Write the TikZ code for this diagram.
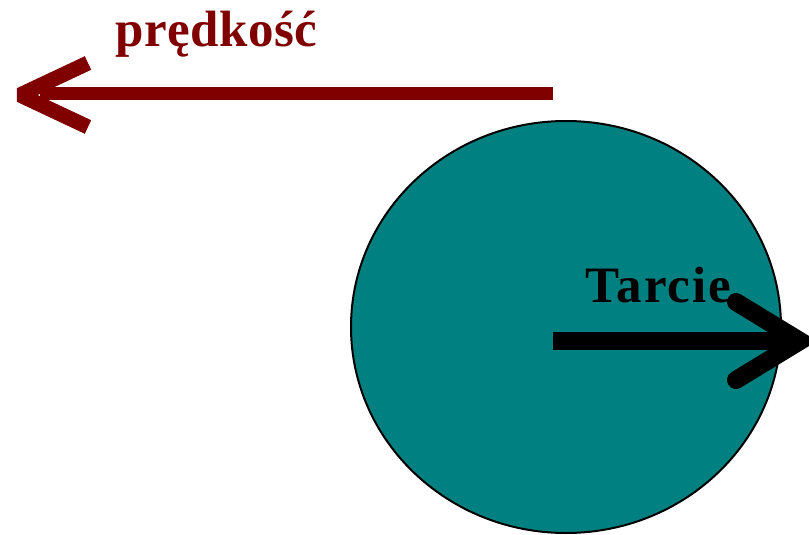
\documentclass[tikz,border=0pt]{standalone}
\usepackage{fontspec}
\setmainfont{Liberation Serif}
\definecolor{maroonred}{HTML}{800000}
\definecolor{tealball}{HTML}{008080}
\begin{document}
\begin{tikzpicture}[x=1pt,y=-1pt,
  lbl/.style={inner sep=0pt,anchor=base west,font=\fontsize{51}{51}\selectfont\bfseries},
  redline/.style={draw=maroonred,line width=13pt},
  blackline/.style={draw=black,line width=18pt}]
\useasboundingbox (0,0) rectangle (809,535);
\fill[tealball,draw=black,line width=2pt] (566,327) ellipse [x radius=215, y radius=206];
% red arrow (velocity)
\coordinate (rs) at (553,94);
\coordinate (rt) at (20,95);
\coordinate (rb1) at (88,63);
\coordinate (rb2) at (88,127);
\draw[redline] (rs) -- (40,94);
\draw[maroonred,line width=15pt,line join=bevel] (rb1) -- (rt) -- (rb2);
\node[lbl,text=maroonred] (v) at (115,47) {\addfontfeature{LetterSpace=1}prędkość};
% black arrow (friction)
\coordinate (bs) at (553,341);
\coordinate (bt) at (800,341);
\coordinate (bb1) at (736,302);
\coordinate (bb2) at (736,380);
\draw[blackline] (bs) -- (790,341);
\draw[black,line width=18pt,line cap=round,line join=miter] (bb1) -- (bt) -- (bb2);
\node[lbl] (f) at (585,302) {\addfontfeature{LetterSpace=4}Tarcie};
\end{tikzpicture}
\end{document}
